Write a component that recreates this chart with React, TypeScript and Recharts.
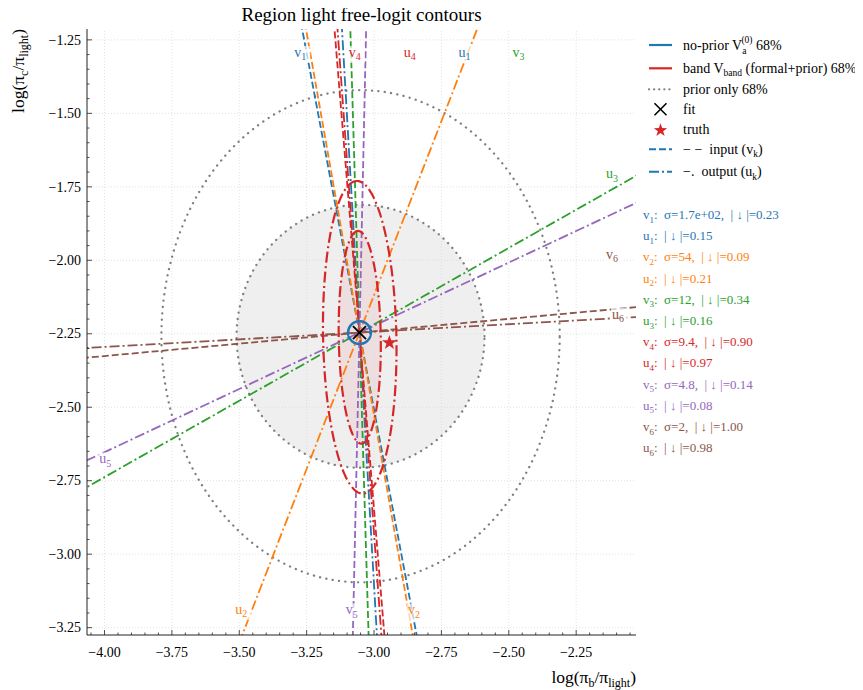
import React from 'react';
import { ComposedChart, XAxis, YAxis, Line, Area, Scatter, ReferenceLine } from 'recharts';

const FONT = "'Liberation Serif', 'DejaVu Serif', serif";
const C = {
  blue: '#1f77b4', orange: '#ff7f0e', green: '#2ca02c', red: '#d62728',
  purple: '#9467bd', brown: '#8c564b', gray: '#7f7f7f',
};

// ---- axes ----
const X_DOMAIN: [number, number] = [-4.065, -2.028];
const Y_DOMAIN: [number, number] = [-3.275, -1.213];
const X_MAJOR = [-4.0, -3.75, -3.5, -3.25, -3.0, -2.75, -2.5, -2.25];
const Y_MAJOR = [-3.25, -3.0, -2.75, -2.5, -2.25, -2.0, -1.75, -1.5, -1.25];
const MINOR_STEP = 0.05;

// ---- points ----
const FIT_POINT = [{ x: -3.054, y: -2.246 }];
const TRUTH_POINT = [{ x: -2.943, y: -2.277 }];

// ---- direction lines (through fit) ----
const DIR_NAMES = ['v1', 'u1', 'v2', 'u2', 'v3', 'u3', 'v4', 'u4', 'v5', 'u5', 'v6', 'u6'];
const DIR_COLORS = [C.blue, C.blue, C.orange, C.orange, C.green, C.green, C.red, C.red, C.purple, C.purple, C.brown, C.brown];
const DIR_VECTORS: [number, number][] = [
  [-0.206, 1], [-0.0629, 1], [-0.192, 1], [0.4227, 1], [-0.0329, 1], [1, 0.52],
  [-0.0898, 1], [-0.079, 1], [0.0239, 1], [1, 0.43], [1, 0.0843], [1, 0.0516],
];
const DIR_LABEL_X = [-3.27, -2.661, -2.848, -3.489, -2.46, -2.113, -3.068, -2.864, -3.079, -3.994, -2.113, -2.091];
const DIR_LABEL_Y = [-1.298, -1.298, -3.195, -3.193, -1.298, -1.71, -1.298, -1.298, -3.195, -2.681, -1.985, -2.189];

// ---- annotation values ----
const V_SIGMA = ['1.7e+02', '54', '12', '9.4', '4.8', '2'];
const V_PROJ = ['0.23', '0.09', '0.34', '0.90', '0.14', '1.00'];
const U_PROJ = ['0.15', '0.21', '0.16', '0.97', '0.08', '0.98'];

// ---- contour ellipses (center, semi-axes, angle in data space) ----
const PRIOR_CENTER = { x: -3.05, y: -2.2585 };
const PRIOR_INNER = { a: 0.46, b: 0.4475, angle: 0 };
const PRIOR_OUTER = { a: 0.739, b: 0.8375, angle: 0 };
const BAND_CENTER = { x: -3.053, y: -2.262 };
const BAND_OUTER = { a: 0.532, b: 0.136, angle: 91.2 };
const BAND_INNER = { a: 0.362, b: 0.078, angle: 91 };
const NOPRIOR = { a: 0.042, b: 0.0387, angle: 0 };

type E = { a: number; b: number; angle: number };

function ellipseOutline(c: { x: number; y: number }, e: E, n = 240) {
  const th = (e.angle * Math.PI) / 180;
  const pts: { x: number; y: number }[] = [];
  for (let i = 0; i <= n; i++) {
    const t = (2 * Math.PI * i) / n;
    const ex = e.a * Math.cos(t);
    const ey = e.b * Math.sin(t);
    pts.push({ x: c.x + ex * Math.cos(th) - ey * Math.sin(th), y: c.y + ex * Math.sin(th) + ey * Math.cos(th) });
  }
  return pts;
}

function ellipseBand(c: { x: number; y: number }, e: E, n = 200) {
  const th = (e.angle * Math.PI) / 180;
  const cs = Math.cos(th), sn = Math.sin(th);
  const A = (cs * cs) / (e.a * e.a) + (sn * sn) / (e.b * e.b);
  const B = 2 * cs * sn * (1 / (e.a * e.a) - 1 / (e.b * e.b));
  const Cc = (sn * sn) / (e.a * e.a) + (cs * cs) / (e.b * e.b);
  const xm = Math.sqrt((4 * Cc) / (4 * A * Cc - B * B));
  const out: { x: number; range: [number, number] }[] = [];
  for (let i = 0; i <= n; i++) {
    const X = -xm * Math.cos((Math.PI * i) / n);
    const disc = Math.max(0, B * B * X * X - 4 * Cc * (A * X * X - 1));
    const y1 = (-B * X - Math.sqrt(disc)) / (2 * Cc);
    const y2 = (-B * X + Math.sqrt(disc)) / (2 * Cc);
    out.push({ x: c.x + X, range: [c.y + y1, c.y + y2] });
  }
  return out;
}

function dirLine(v: [number, number]) {
  const L = Math.hypot(v[0], v[1]);
  const f = FIT_POINT[0];
  return [
    { x: f.x - (4 * v[0]) / L, y: f.y - (4 * v[1]) / L },
    { x: f.x + (4 * v[0]) / L, y: f.y + (4 * v[1]) / L },
  ];
}

const DASH = '7 3';
const DASHDOT = '10 3 2 3';
const DOTTED = '0.1 6.3';

const TICK = '#222';
const isMajor = (v: number) => Math.abs(v * 4 - Math.round(v * 4)) < 1e-6;
const fmt = (v: number) => (v < 0 ? '−' : '') + Math.abs(v).toFixed(2);

function minorTicks(d: [number, number]) {
  const res: number[] = [];
  const start = Math.ceil(d[0] / MINOR_STEP);
  const end = Math.floor(d[1] / MINOR_STEP);
  for (let k = start; k <= end; k++) res.push(Math.round(k * MINOR_STEP * 100) / 100);
  return res;
}
const X_TICKS = minorTicks(X_DOMAIN);
const Y_TICKS = minorTicks(Y_DOMAIN);

const BottomTick = (p: any) => {
  const { x, y, payload } = p;
  const M = isMajor(payload.value);
  return (
    <g>
      <line x1={x} x2={x} y1={y} y2={y - (M ? 5 : 2.5)} stroke={TICK} strokeWidth={0.8} />
      {M && (
        <text x={x} y={y + 21.5} textAnchor="middle" fontSize={14} fontFamily={FONT} fill="#000">
          {fmt(payload.value)}
        </text>
      )}
    </g>
  );
};
const TopTick = (p: any) => {
  const { x, y, payload } = p;
  const M = isMajor(payload.value);
  return <line x1={x} x2={x} y1={y} y2={y + (M ? 5 : 2.5)} stroke={TICK} strokeWidth={0.8} />;
};
const LeftTick = (p: any) => {
  const { x, y, payload } = p;
  const M = isMajor(payload.value);
  return (
    <g>
      <line x1={x} x2={x + (M ? 5 : 2.5)} y1={y} y2={y} stroke={TICK} strokeWidth={0.8} />
      {M && (
        <text x={x - 6} y={y + 4.7} textAnchor="end" fontSize={14} fontFamily={FONT} fill="#000">
          {fmt(payload.value)}
        </text>
      )}
    </g>
  );
};
const RightTick = (p: any) => {
  const { x, y, payload } = p;
  const M = isMajor(payload.value);
  return <line x1={x} x2={x - (M ? 5 : 2.5)} y1={y} y2={y} stroke={TICK} strokeWidth={0.8} />;
};

const dirLabelData = DIR_NAMES.map((n, i) => ({ x: DIR_LABEL_X[i], y: DIR_LABEL_Y[i], name: n, color: DIR_COLORS[i] }));

const LabelShape = (p: any) => {
  const { cx, cy, payload } = p;
  const base = payload.name[0];
  const sub = payload.name.slice(1);
  return (
    <g>
      <rect x={cx - 8} y={cy - 8} width={17} height={17} fill="#fff" fillOpacity={0.7} />
      <text x={cx - 1} y={cy + 3} textAnchor="middle" fontSize={14} fontFamily={FONT} fill={payload.color}>
        {base}
        <tspan dy={3.5} fontSize={10}>{sub}</tspan>
      </text>
    </g>
  );
};

const FitShape = (p: any) => {
  const { cx, cy } = p;
  const s = 6.5;
  return (
    <g stroke="#000" strokeWidth={1.8}>
      <line x1={cx - s} y1={cy - s} x2={cx + s} y2={cy + s} />
      <line x1={cx - s} y1={cy + s} x2={cx + s} y2={cy - s} />
    </g>
  );
};

function starPoints(cx: number, cy: number, R: number) {
  const r = R * 0.4;
  const pts: string[] = [];
  for (let i = 0; i < 10; i++) {
    const ang = -Math.PI / 2 + (i * Math.PI) / 5;
    const rad = i % 2 === 0 ? R : r;
    pts.push(`${cx + rad * Math.cos(ang)},${cy + rad * Math.sin(ang)}`);
  }
  return pts.join(' ');
}
const TruthShape = (p: any) => <polygon points={starPoints(p.cx, p.cy + 1, 7.8)} fill={C.red} />;

export default function App() {
  const priorInnerBand = ellipseBand(PRIOR_CENTER, PRIOR_INNER);
  const priorInnerLine = ellipseOutline(PRIOR_CENTER, PRIOR_INNER);
  const priorOuterLine = ellipseOutline(PRIOR_CENTER, PRIOR_OUTER);
  const bandInnerBand = ellipseBand(BAND_CENTER, BAND_INNER);
  const bandInnerLine = ellipseOutline(BAND_CENTER, BAND_INNER);
  const bandOuterLine = ellipseOutline(BAND_CENTER, BAND_OUTER);
  const noPriorLine = ellipseOutline(FIT_POINT[0], NOPRIOR);

  const W = 863;
  const H = 690;
  const legendY = [45, 68.3, 89.3, 109.3, 129.3, 149.3, 171.7];
  const lx0 = 649, lx1 = 672, tx = 683;
  const fs = 14;
  const pre = { whiteSpace: 'pre' as const };

  return (
    <div style={{ position: 'relative', width: W, height: H, margin: '-8px 0 0 -8px' }}>
      <ComposedChart width={W} height={H} margin={{ top: 29, right: 227, bottom: 5, left: 27 }}>
        <XAxis
          xAxisId={0} dataKey="x" type="number" domain={X_DOMAIN} allowDataOverflow ticks={X_TICKS}
          interval={0} tickSize={0} tickMargin={0} tick={<BottomTick />} tickLine={false}
          axisLine={{ stroke: TICK, strokeWidth: 1 }} height={50} orientation="bottom"
        />
        <XAxis
          xAxisId="top" dataKey="x" type="number" domain={X_DOMAIN} allowDataOverflow ticks={X_TICKS}
          interval={0} tickSize={0} tickMargin={0} tick={<TopTick />} tickLine={false}
          axisLine={{ stroke: TICK, strokeWidth: 1 }} height={0} orientation="top"
        />
        <YAxis
          yAxisId={0} dataKey="y" type="number" domain={Y_DOMAIN} allowDataOverflow ticks={Y_TICKS}
          interval={0} tickSize={0} tickMargin={0} tick={<LeftTick />} tickLine={false}
          axisLine={{ stroke: TICK, strokeWidth: 1 }} width={60} orientation="left"
        />
        <YAxis
          yAxisId="right" dataKey="y" type="number" domain={Y_DOMAIN} allowDataOverflow ticks={Y_TICKS}
          interval={0} tickSize={0} tickMargin={0} tick={<RightTick />} tickLine={false}
          axisLine={{ stroke: TICK, strokeWidth: 1 }} width={0} orientation="right"
        />

        {X_MAJOR.map((v) => (
          <ReferenceLine key={'gx' + v} x={v} stroke="#d9d9d9" strokeWidth={0.8} strokeDasharray="1 2" />
        ))}
        {Y_MAJOR.map((v) => (
          <ReferenceLine key={'gy' + v} y={v} stroke="#d9d9d9" strokeWidth={0.8} strokeDasharray="1 2" />
        ))}

        <Area data={priorInnerBand} dataKey="range" type="linear" stroke="none" fill={C.gray} fillOpacity={0.12} isAnimationActive={false} />
        <Line data={priorInnerLine} dataKey="y" type="linear" dot={false} stroke={C.gray} strokeWidth={2.3} strokeDasharray={DOTTED} strokeLinecap="round" isAnimationActive={false} />
        <Line data={priorOuterLine} dataKey="y" type="linear" dot={false} stroke={C.gray} strokeWidth={2.3} strokeDasharray={DOTTED} strokeLinecap="round" isAnimationActive={false} />

        <Area data={bandInnerBand} dataKey="range" type="linear" stroke="none" fill={C.red} fillOpacity={0.08} isAnimationActive={false} />

        {DIR_NAMES.map((n, i) => (
          <Line
            key={n}
            data={dirLine(DIR_VECTORS[i])}
            dataKey="y"
            type="linear"
            dot={false}
            stroke={DIR_COLORS[i]}
            strokeWidth={1.8}
            strokeDasharray={n[0] === 'v' ? DASH : DASHDOT}
            isAnimationActive={false}
          />
        ))}

        <Line data={bandOuterLine} dataKey="y" type="linear" dot={false} stroke={C.red} strokeWidth={2.2} strokeDasharray="11 3.5 2 3.5" isAnimationActive={false} />
        <Line data={bandInnerLine} dataKey="y" type="linear" dot={false} stroke={C.red} strokeWidth={2.2} strokeDasharray="11 3.5 2 3.5" isAnimationActive={false} />
        <Line data={noPriorLine} dataKey="y" type="linear" dot={false} stroke={C.blue} strokeWidth={2.6} isAnimationActive={false} />

        <Scatter data={TRUTH_POINT} shape={TruthShape} isAnimationActive={false} />
        <Scatter data={FIT_POINT} shape={FitShape} isAnimationActive={false} />
        <Scatter data={dirLabelData} shape={LabelShape} isAnimationActive={false} />
      </ComposedChart>

      <svg width={W} height={H} style={{ position: 'absolute', left: 0, top: 0, pointerEvents: 'none' }} fontFamily={FONT}>
        <text x={361.5} y={20.5} textAnchor="middle" fontSize={19} fill="#000">Region light free-logit contours</text>

        <text x={636} y={683} textAnchor="end" fontSize={17.5} fill="#000">
          log(π<tspan dy={4} fontSize={12}>b</tspan><tspan dy={-4}>/π</tspan><tspan dy={4} fontSize={12}>light</tspan><tspan dy={-4}>)</tspan>
        </text>
        <text transform="translate(24, 29) rotate(-90)" textAnchor="end" fontSize={17.5} fill="#000">
          log(π<tspan dy={4} fontSize={12}>c</tspan><tspan dy={-4}>/π</tspan><tspan dy={4} fontSize={12}>light</tspan><tspan dy={-4}>)</tspan>
        </text>

        {/* legend */}
        <line x1={lx0} x2={lx1} y1={legendY[0]} y2={legendY[0]} stroke={C.blue} strokeWidth={2.2} />
        <text x={tx} y={legendY[0] + 4.5} fontSize={fs} fill="#000" style={pre}>
          no-prior V<tspan dy={4} fontSize={9.5}>a</tspan><tspan dx={-5} dy={-11} fontSize={9.5}>(0)</tspan><tspan dy={7}> 68%</tspan>
        </text>
        <line x1={lx0} x2={lx1} y1={legendY[1]} y2={legendY[1]} stroke={C.red} strokeWidth={2.2} />
        <text x={tx} y={legendY[1] + 4.5} fontSize={fs} fill="#000" style={pre}>
          band V<tspan dy={3.5} fontSize={9.5}>band</tspan><tspan dy={-3.5}> (formal+prior) 68%</tspan>
        </text>
        <line x1={lx0} x2={lx1} y1={legendY[2]} y2={legendY[2]} stroke={C.gray} strokeWidth={2.2} strokeDasharray="0.1 5" strokeLinecap="round" />
        <text x={tx} y={legendY[2] + 4.5} fontSize={fs} fill="#000">prior only 68%</text>
        <g stroke="#000" strokeWidth={1.6}>
          <line x1={(lx0 + lx1) / 2 - 6} x2={(lx0 + lx1) / 2 + 6} y1={legendY[3] - 6} y2={legendY[3] + 6} />
          <line x1={(lx0 + lx1) / 2 - 6} x2={(lx0 + lx1) / 2 + 6} y1={legendY[3] + 6} y2={legendY[3] - 6} />
        </g>
        <text x={tx} y={legendY[3] + 4.5} fontSize={fs} fill="#000">fit</text>
        <polygon points={starPoints((lx0 + lx1) / 2, legendY[4] + 1, 7)} fill={C.red} />
        <text x={tx} y={legendY[4] + 4.5} fontSize={fs} fill="#000">truth</text>
        <line x1={lx0} x2={lx1} y1={legendY[5]} y2={legendY[5]} stroke={C.blue} strokeWidth={2} strokeDasharray="7 3" />
        <text x={tx} y={legendY[5] + 4.5} fontSize={fs} fill="#000" style={pre}>
          {'− −  input (v'}<tspan dy={3.5} fontSize={9.5}>k</tspan><tspan dy={-3.5}>)</tspan>
        </text>
        <line x1={lx0} x2={lx1} y1={legendY[6]} y2={legendY[6]} stroke={C.blue} strokeWidth={2} strokeDasharray="10 3 2 3" />
        <text x={tx} y={legendY[6] + 4.5} fontSize={fs} fill="#000" style={pre}>
          {'−.  output (u'}<tspan dy={3.5} fontSize={9.5}>k</tspan><tspan dy={-3.5}>)</tspan>
        </text>

        {/* annotations */}
        {DIR_NAMES.map((n, i) => {
          const k = Math.floor(i / 2);
          const isV = n[0] === 'v';
          const y = 214.5 + i * 21.2 + 4.5;
          return (
            <text key={'ann' + n} x={643} y={y} fontSize={13} fill={DIR_COLORS[i]} style={pre}>
              {n[0]}<tspan dy={3.5} fontSize={9}>{n.slice(1)}</tspan>
              <tspan dy={-3.5}>{isV ? `:  σ=${V_SIGMA[k]},  | ↓ |=${V_PROJ[k]}` : `:  | ↓ |=${U_PROJ[k]}`}</tspan>
            </text>
          );
        })}
      </svg>
    </div>
  );
}
